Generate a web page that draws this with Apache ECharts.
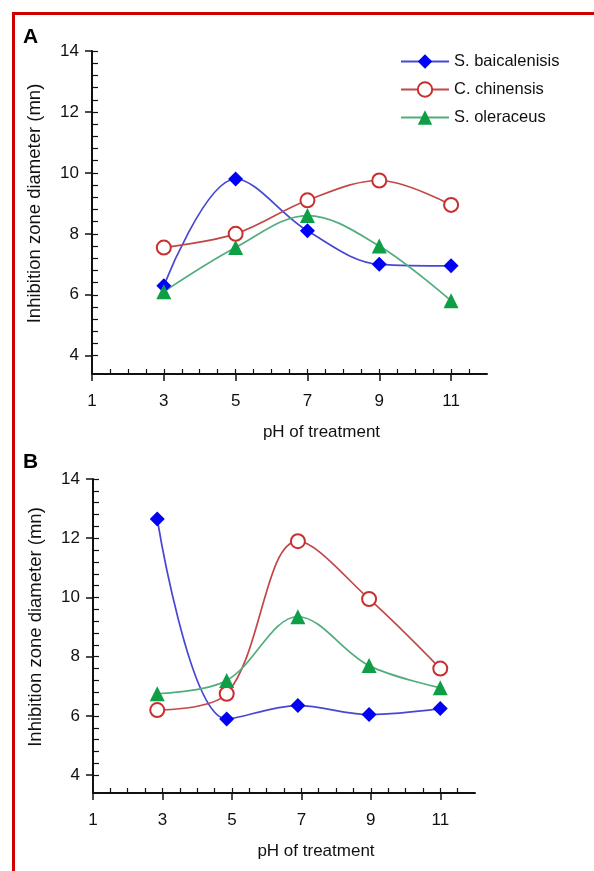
<!DOCTYPE html>
<html>
<head>
<meta charset="utf-8">
<script src="https://cdn.jsdelivr.net/npm/echarts@6/dist/echarts.min.js"></script>
<style>
html, body { margin: 0; padding: 0; background: #fff; }
#main { width: 594px; height: 871px; }
</style>
</head>
<body>
<div id="main"></div>
<script>
// series names (legend)
const seriesNames = ['S. baicalenisis', 'C. chinensis', 'S. oleraceus']
// panel A
const phA = [3, 5, 7, 9, 11]
const baicalA = [6.3, 9.8, 8.1, 7.0, 6.95]
const chinensisA = [7.55, 8.0, 9.1, 9.75, 8.95]
const oleraceusA = [6.1, 7.55, 8.6, 7.6, 5.8]
// panel B (points sit a little left of the ticks in the original)
const phB = [2.85, 4.85, 6.9, 8.95, 11]
const baicalB = [12.65, 5.9, 6.35, 6.05, 6.25]
const chinensisB = [6.2, 6.75, 11.9, 9.95, 7.6]
const oleraceusB = [6.75, 7.2, 9.35, 7.7, 6.95]
// tick labels
const xTickLabels = [1, 3, 5, 7, 9, 11]
const yTickLabels = [4, 6, 8, 10, 12, 14]

const FONT = 'Liberation Sans, Arial, sans-serif'
const AXIS_COLOR = '#111'

// minor tick positions
const xMinor = []
for (let v = 1.5; v < 12; v += 0.5) xMinor.push(+v.toFixed(2))
const yMinor = []
for (let v = 4; v <= 14.001; v += 0.4) yMinor.push(+v.toFixed(2))

function zip(xs, ys) {
  return xs.map((x, i) => [x, ys[i]])
}

const styles = [
  { // S. baicalenisis
    symbol: 'diamond', symbolSize: 15,
    lineStyle: { color: '#4747d6', width: 1.7 },
    itemStyle: { color: '#0000f5' },
  },
  { // C. chinensis
    symbol: 'emptyCircle', symbolSize: 14,
    lineStyle: { color: '#c24848', width: 1.7 },
    itemStyle: { color: '#c82f2f', borderColor: '#c82f2f', borderWidth: 1.5 },
  },
  { // S. oleraceus
    symbol: 'triangle', symbolSize: 15,
    lineStyle: { color: '#52ad7c', width: 1.7 },
    itemStyle: { color: '#0e9e45' },
  },
]

function makeSeries(name, idx, data, axisIdx) {
  return Object.assign({
    name: name,
    type: 'line',
    smooth: 0.35,
    xAxisIndex: axisIdx,
    yAxisIndex: axisIdx,
    data: data,
  }, styles[idx])
}

function mainX(grid) {
  return {
    type: 'value', gridIndex: grid, min: 1, max: 12, position: 'bottom',
    axisLine: { onZero: false, lineStyle: { color: AXIS_COLOR, width: 2 } },
    axisTick: { customValues: xTickLabels, length: 7, lineStyle: { color: AXIS_COLOR, width: 1.5 } },
    axisLabel: { customValues: xTickLabels, margin: 19, fontSize: 17, color: AXIS_COLOR, fontFamily: FONT },
    splitLine: { show: false },
    name: 'pH of treatment',
    nameLocation: 'middle',
    nameGap: 50,
    nameTextStyle: { fontSize: 17, color: AXIS_COLOR, fontFamily: FONT, padding: [0, 0, 0, 64] },
  }
}
function minorX(grid) {
  return {
    type: 'value', gridIndex: grid, min: 1, max: 12, position: 'bottom', offset: 0,
    axisLine: { show: false, onZero: false },
    axisTick: { inside: true, customValues: xMinor, length: 5, lineStyle: { color: AXIS_COLOR, width: 1.2 } },
    axisLabel: { show: false },
    splitLine: { show: false },
  }
}
function mainY(grid) {
  return {
    type: 'value', gridIndex: grid, min: 3.4, max: 14, position: 'left',
    axisLine: { show: true, onZero: false, lineStyle: { color: AXIS_COLOR, width: 2 } },
    axisTick: { show: true, customValues: yTickLabels, length: 7, lineStyle: { color: AXIS_COLOR, width: 1.5 } },
    axisLabel: { customValues: yTickLabels, margin: 13, fontSize: 17, color: AXIS_COLOR, fontFamily: FONT },
    splitLine: { show: false },
    name: 'Inhibition zone diameter (mn)',
    nameLocation: 'middle',
    nameGap: 48,
    nameTextStyle: { fontSize: 18.5, color: AXIS_COLOR, fontFamily: FONT, padding: [0, 0, 0, 18] },
  }
}
function minorY(grid) {
  return {
    type: 'value', gridIndex: grid, min: 3.4, max: 14, position: 'left', offset: 0,
    axisLine: { show: false, onZero: false },
    axisTick: { show: true, inside: true, customValues: yMinor, length: 6, lineStyle: { color: AXIS_COLOR, width: 1.2 } },
    axisLabel: { show: false },
    splitLine: { show: false },
  }
}

const chart = echarts.init(document.getElementById('main'))
chart.setOption({
  backgroundColor: '#fff',
  animation: false,
  textStyle: { fontFamily: FONT },
  grid: [
    { left: 92, top: 51, width: 395, height: 323 },
    { left: 93, top: 479, width: 382, height: 314 },
  ],
  legend: {
    data: seriesNames,
    orient: 'vertical',
    left: 400,
    top: 53,
    padding: 0,
    itemWidth: 48,
    itemHeight: 18,
    itemGap: 11,
    textStyle: { fontSize: 16.5, color: '#111', fontFamily: FONT },
  },
  xAxis: [mainX(0), minorX(0), mainX(1), minorX(1)],
  yAxis: [mainY(0), minorY(0), mainY(1), minorY(1)],
  series: [
    makeSeries(seriesNames[0], 0, zip(phA, baicalA), 0),
    makeSeries(seriesNames[1], 1, zip(phA, chinensisA), 0),
    makeSeries(seriesNames[2], 2, zip(phA, oleraceusA), 0),
    makeSeries(seriesNames[0], 0, zip(phB, baicalB), 2),
    makeSeries(seriesNames[1], 1, zip(phB, chinensisB), 2),
    makeSeries(seriesNames[2], 2, zip(phB, oleraceusB), 2),
  ],
  graphic: [
    // red frame (top and left edges)
    { type: 'rect', shape: { x: 12, y: 12, width: 582, height: 3 }, style: { fill: '#cc0000' } },
    { type: 'rect', shape: { x: 12, y: 12, width: 3, height: 859 }, style: { fill: '#cc0000' } },
    { type: 'text', style: { text: 'A', x: 23, y: 27, font: 'bold 21px ' + FONT, fill: '#000' } },
    { type: 'text', style: { text: 'B', x: 23, y: 452, font: 'bold 21px ' + FONT, fill: '#000' } },
  ],
})
</script>
</body>
</html>
